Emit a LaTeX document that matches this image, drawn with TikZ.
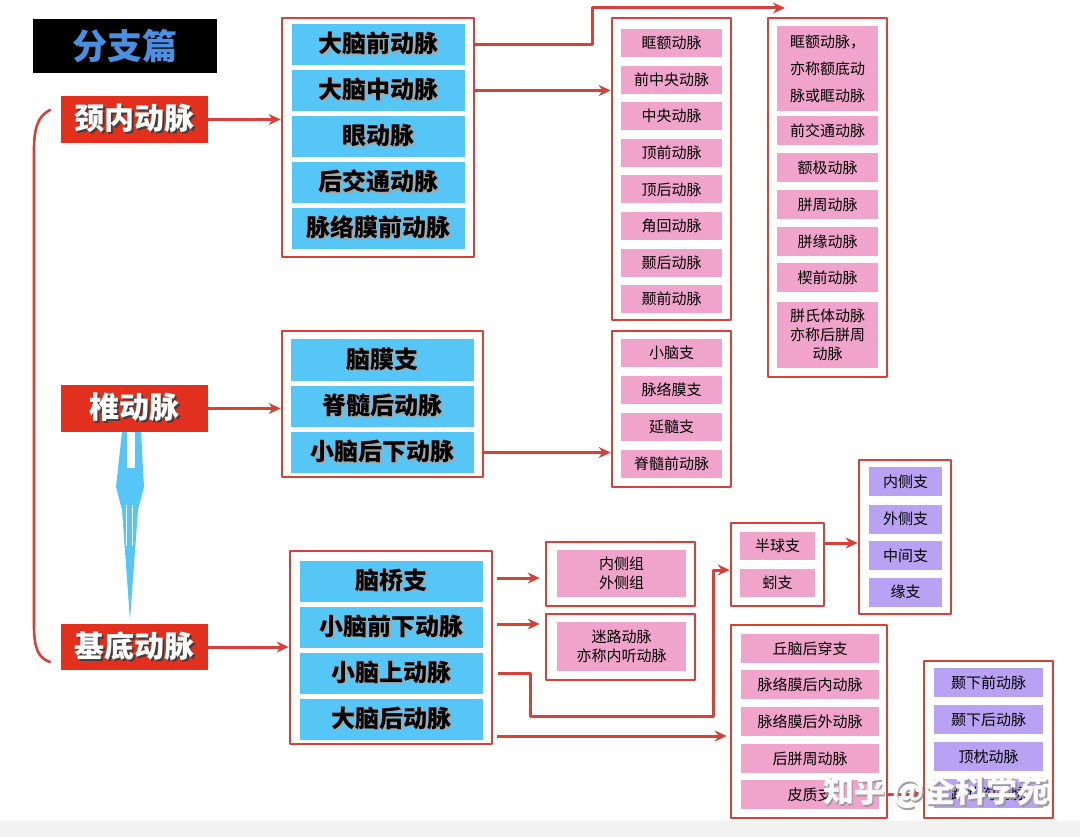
\documentclass[tikz,border=0pt]{standalone}
\usepackage{fontspec}
\newfontfamily\cjk{Noto Sans CJK SC}
\usetikzlibrary{arrows.meta}
\definecolor{artred}{HTML}{E2301F}
\definecolor{boxline}{HTML}{D5423A}
\definecolor{artblue}{HTML}{56C6F6}
\definecolor{artpink}{HTML}{F1A4CB}
\definecolor{artpurple}{HTML}{B9A2F4}
\definecolor{titleblue}{HTML}{4C8EE0}
\newcommand{\shadowed}[3]{\leavevmode\rlap{\hspace{#1}\raisebox{-#1}{\textcolor{#2}{#3}}}#3}
\tikzset{
  redbox/.style={fill=artred, text=white, inner sep=0, minimum width=147, minimum height=47,
    font=\cjk\bfseries\fontsize{30}{30}\selectfont},
  bluebox/.style={fill=artblue, inner sep=0, minimum width=173, minimum height=41,
    font=\cjk\bfseries\fontsize{24}{24}\selectfont},
  pinkbox/.style={fill=artpink, inner sep=0, minimum width=101, minimum height=28, align=center,
    font=\cjk\fontsize{15}{19}\selectfont},
  purplebox/.style={pinkbox, fill=artpurple},
  grpbox/.style={draw=boxline, line width=2.6pt, inner sep=0},
  conn/.style={draw=boxline, line width=3pt}
}
\begin{document}
\begin{tikzpicture}[x=1pt, y=-1pt, line join=round, >={Stealth[length=12pt,width=11pt]}]
  \useasboundingbox (0,0) rectangle (1080,837);
  \fill[white] (0,0) rectangle (1080,837);
  \fill[black!5] (0,821) rectangle (1080,837);
  % title
  \node[fill=black, minimum width=184, minimum height=54, inner sep=0, text=titleblue,
    font=\cjk\bfseries\fontsize{35}{35}\selectfont] (title) at (125,46) {分支篇};
  % main trunks
  \node[redbox] (ica) at (134.5,119.5) {\shadowed{2pt}{black!75}{颈内动脉}};
  \node[redbox] (va) at (134.5,408.5) {\shadowed{2pt}{black!75}{椎动脉}};
  \node[redbox, minimum height=46] (ba) at (134.5,647) {\shadowed{2pt}{black!75}{基底动脉}};
  \draw[boxline, line width=2.6pt, line cap=round]
    (50,110) .. controls (38,116) and (34,128) .. (34,150) -- (34,625)
    .. controls (34,648) and (38,658) .. (50,662);
  % two vertebral arteries joining
  \fill[artblue] (122,432) -- (116,487) -- (122,510) -- (130,620) -- (138,510) -- (144,487)
    -- (141,432) -- (135,432) -- (135,468) -- (127,468) -- (127,432) -- cycle;
  \draw[white, line width=1.6pt] (126.5,505) -- (126.5,546) (132.5,505) -- (132.5,546);
  % internal carotid group
  \node[grpbox, minimum width=192, minimum height=239] (g1) at (378,137.5) {};
  \node[bluebox] (aca) at (378.5,44.5) {\shadowed{1.5pt}{black!35}{大脑前动脉}};
  \node[bluebox] (mca) at (378.5,90.5) {\shadowed{1.5pt}{black!35}{大脑中动脉}};
  \node[bluebox] (opht) at (378.5,136.5) {\shadowed{1.5pt}{black!35}{眼动脉}};
  \node[bluebox] (pcom) at (378.5,182.5) {\shadowed{1.5pt}{black!35}{后交通动脉}};
  \node[bluebox] (achor) at (378.5,228.5) {\shadowed{1.5pt}{black!35}{脉络膜前动脉}};
  % middle cerebral branches
  \node[grpbox, minimum width=119, minimum height=302] (g2) at (671.5,169) {};
  \node[pinkbox] (m1) at (671.5,43) {眶额动脉};
  \node[pinkbox] (m2) at (671.5,79.6) {前中央动脉};
  \node[pinkbox] (m3) at (671.5,116.2) {中央动脉};
  \node[pinkbox] (m4) at (671.5,152.8) {顶前动脉};
  \node[pinkbox] (m5) at (671.5,189.4) {顶后动脉};
  \node[pinkbox] (m6) at (671.5,226) {角回动脉};
  \node[pinkbox] (m7) at (671.5,262.6) {颞后动脉};
  \node[pinkbox] (m8) at (671.5,299.2) {颞前动脉};
  % anterior cerebral branches
  \node[grpbox, minimum width=119, minimum height=359] (g3) at (827.5,197.5) {};
  \node[pinkbox, minimum height=85, font=\cjk\fontsize{15}{27}\selectfont] (a1) at (827.5,68.5)
    {眶额动脉，\\亦称额底动\\脉或眶动脉};
  \node[pinkbox, minimum height=29] (a2) at (827.5,130.5) {前交通动脉};
  \node[pinkbox, minimum height=29] (a3) at (827.5,167.5) {额极动脉};
  \node[pinkbox, minimum height=29] (a4) at (827.5,204.5) {胼周动脉};
  \node[pinkbox, minimum height=29] (a5) at (827.5,241.5) {胼缘动脉};
  \node[pinkbox, minimum height=29] (a6) at (827.5,277.5) {楔前动脉};
  \node[pinkbox, minimum height=66] (a7) at (827.5,335) {胼氏体动脉\\亦称后胼周\\动脉};
  % vertebral group
  \node[grpbox, minimum width=201, minimum height=146] (g4) at (382.5,404) {};
  \node[bluebox, minimum width=183] (mening) at (382.5,360) {\shadowed{1.5pt}{black!35}{脑膜支}};
  \node[bluebox, minimum width=183] (pspin) at (382.5,406.5) {\shadowed{1.5pt}{black!35}{脊髓后动脉}};
  \node[bluebox, minimum width=183] (pica) at (382.5,452.5) {\shadowed{1.5pt}{black!35}{小脑后下动脉}};
  \node[grpbox, minimum width=119, minimum height=156] (g5) at (671.5,409) {};
  \node[pinkbox] (p1) at (671.5,353) {小脑支};
  \node[pinkbox] (p2) at (671.5,390) {脉络膜支};
  \node[pinkbox] (p3) at (671.5,427) {延髓支};
  \node[pinkbox] (p4) at (671.5,464) {脊髓前动脉};
  % basilar group
  \node[grpbox, minimum width=202, minimum height=193] (g6) at (391,647.5) {};
  \node[bluebox, minimum width=183] (pont) at (391.5,581) {\shadowed{1.5pt}{black!35}{脑桥支}};
  \node[bluebox, minimum width=183] (aica) at (391.5,627) {\shadowed{1.5pt}{black!35}{小脑前下动脉}};
  \node[bluebox, minimum width=183] (sca) at (391.5,673) {\shadowed{1.5pt}{black!35}{小脑上动脉}};
  \node[bluebox, minimum width=183] (pca) at (391.5,719) {\shadowed{1.5pt}{black!35}{大脑后动脉}};
  \node[grpbox, minimum width=149, minimum height=64] (g7) at (620.5,574) {};
  \node[pinkbox, minimum width=129, minimum height=47] (pontgrp) at (621.5,573.5) {内侧组\\外侧组};
  \node[grpbox, minimum width=149, minimum height=66] (g8) at (620.5,647) {};
  \node[pinkbox, minimum width=129, minimum height=49] (labyr) at (621.5,646.5) {迷路动脉\\亦称内听动脉};
  \node[grpbox, minimum width=93, minimum height=83] (g9) at (777.5,564.5) {};
  \node[pinkbox, minimum width=75] (hemi) at (777.5,546) {半球支};
  \node[pinkbox, minimum width=75] (verm) at (777.5,583) {蚓支};
  \node[grpbox, minimum width=92, minimum height=154] (g10) at (905,537) {};
  \node[purplebox, minimum width=73, minimum height=29] (s1) at (905.5,481.5) {内侧支};
  \node[purplebox, minimum width=73, minimum height=29] (s2) at (905.5,519) {外侧支};
  \node[purplebox, minimum width=73, minimum height=29] (s3) at (905.5,555.5) {中间支};
  \node[purplebox, minimum width=73, minimum height=29] (s4) at (905.5,592) {缘支};
  \node[grpbox, minimum width=156, minimum height=193] (g11) at (809,721.5) {};
  \node[pinkbox, minimum width=138, minimum height=29] (c1) at (810,648.5) {丘脑后穿支};
  \node[pinkbox, minimum width=138, minimum height=29] (c2) at (810,684.5) {脉络膜后内动脉};
  \node[pinkbox, minimum width=138, minimum height=29] (c3) at (810,721.5) {脉络膜后外动脉};
  \node[pinkbox, minimum width=138, minimum height=29] (c4) at (810,758.5) {后胼周动脉};
  \node[pinkbox, minimum width=138, minimum height=29] (cort) at (810,794.5) {皮质支};
  \node[grpbox, minimum width=129, minimum height=157] (g12) at (988.5,739.5) {};
  \node[purplebox, minimum width=109, minimum height=29] (t1) at (988.5,682.5) {颞下前动脉};
  \node[purplebox, minimum width=109, minimum height=29] (t2) at (988.5,719.5) {颞下后动脉};
  \node[purplebox, minimum width=109, minimum height=29] (t3) at (988.5,756.5) {顶枕动脉};
  \node[purplebox, minimum width=109, minimum height=29] (t4) at (988.5,793.5) {距状沟动脉};
  % connectors
  \coordinate (acaup) at (592,8);
  \coordinate (acaend) at (785,8);
  \coordinate (pontout) at (497,578);
  \coordinate (aicaout) at (497,624);
  \coordinate (scadown) at (530,716);
  \coordinate (scaup) at (713,570);
  \coordinate (semiout) at (824,543);
  \coordinate (pcaout) at (497,736);
  \draw[conn,->] (ica) -- (g1.west |- ica);
  \draw[conn,->] (va) -- (g4.west |- va);
  \draw[conn,->] (ba) -- (g6.west |- ba);
  \draw[conn,->] (g1.east |- aca) -| (acaup) -- (acaend);
  \draw[conn,->] (g1.east |- mca) -- (g2.west |- mca);
  \draw[conn,->] (g4.east |- pica) -- (g5.west |- pica);
  \draw[conn,->, shorten >=5pt] (pontout) -- (pontout -| g7.west);
  \draw[conn,->, shorten >=5pt] (aicaout) -- (aicaout -| g8.west);
  \draw[conn,->] ([xshift=5]g6.east |- sca) -| (scadown) -| (scaup) -- (scaup -| g9.west);
  \draw[conn,->] (semiout) -- (semiout -| g10.west);
  \draw[conn,->, shorten >=3pt] (pcaout) -- (pcaout -| g11.west);
  \draw[conn,->] (g11.east |- cort) -- (g12.west |- cort);
  % watermark
  \node[text=white, font=\cjk\bfseries\fontsize{31}{31}\selectfont, opacity=0.95] (wmark) at (936,793)
    {\shadowed{1.5pt}{black!40}{知乎 @全科学苑}};
\end{tikzpicture}
\end{document}
